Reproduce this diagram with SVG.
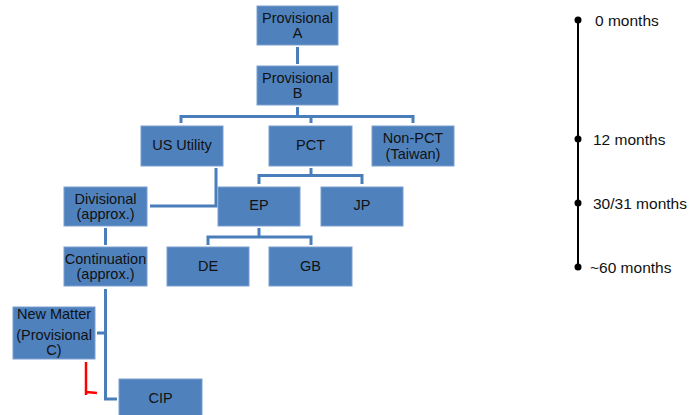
<svg xmlns="http://www.w3.org/2000/svg" width="689" height="415" viewBox="0 0 689 415">
<style>
.box{fill:#4F81BD;stroke:#7A9FD0;stroke-width:1}
.t{font-family:"Liberation Sans",Arial,sans-serif;font-size:14.5px;fill:#111;text-anchor:middle}
.tl{font-family:"Liberation Sans",Arial,sans-serif;font-size:15.5px;fill:#111}
.c{fill:none;stroke:#4A7EBB;stroke-width:3}
</style>
<rect width="689" height="415" fill="#fff"/>
<g id="connectors">
<path class="c" d="M297.5 47V64"/>
<path class="c" d="M297.5 107V116.5M181 123V116.5H413V123M311 116.5V123"/>
<path class="c" d="M311 168V175.5M259 184V175.5H362V184"/>
<path class="c" d="M216 168V206H150"/>
<path class="c" d="M259 228V237M208 245V237H311V245"/>
<path class="c" d="M105.5 228V245"/>
<path class="c" d="M105.5 289V399H117M97 333H105.5"/>
<path d="M86 362V395M86 392L97 393" fill="none" stroke="#FF0000" stroke-width="2.5"/>
</g>
<g id="provA"><rect class="box" x="257" y="6" width="81" height="39"/><text class="t" x="297.5" y="22.5">Provisional</text><text class="t" x="297.5" y="38">A</text></g>
<g id="provB"><rect class="box" x="257" y="66" width="81" height="39"/><text class="t" x="297.5" y="82.5">Provisional</text><text class="t" x="297.5" y="97.5">B</text></g>
<g id="usUtility"><rect class="box" x="141" y="126" width="82" height="40"/><text class="t" x="182" y="150">US Utility</text></g>
<g id="pct"><rect class="box" x="269" y="126" width="83" height="40"/><text class="t" x="310.5" y="150">PCT</text></g>
<g id="nonPct"><rect class="box" x="372" y="126" width="82" height="40"/><text class="t" x="413" y="143">Non-PCT</text><text class="t" x="413" y="158.5">(Taiwan)</text></g>
<g id="divisional"><rect class="box" x="64" y="187" width="83" height="39"/><text class="t" x="105.5" y="203.5">Divisional</text><text class="t" x="105.5" y="218.5">(approx.)</text></g>
<g id="ep"><rect class="box" x="218" y="187" width="82" height="39"/><text class="t" x="259" y="209.5">EP</text></g>
<g id="jp"><rect class="box" x="321" y="187" width="82" height="39"/><text class="t" x="362" y="209.5">JP</text></g>
<g id="continuation"><rect class="box" x="64" y="247" width="83" height="39"/><text class="t" x="105.5" y="263.5">Continuation</text><text class="t" x="105.5" y="278.5">(approx.)</text></g>
<g id="de"><rect class="box" x="167" y="247" width="82" height="39"/><text class="t" x="208" y="271">DE</text></g>
<g id="gb"><rect class="box" x="269" y="247" width="83" height="39"/><text class="t" x="310.5" y="271">GB</text></g>
<g id="newMatter"><rect class="box" x="13" y="307" width="82" height="52"/><text class="t" x="54" y="319">New Matter</text><text class="t" x="54" y="340">(Provisional</text><text class="t" x="54" y="355">C)</text></g>
<g id="cip"><rect class="box" x="119" y="379" width="83" height="39"/><text class="t" x="160.5" y="403">CIP</text></g>
<g id="timeline">
<line x1="578" y1="20" x2="578" y2="267" stroke="#000" stroke-width="2"/>
<circle cx="578" cy="20" r="3.5"/><circle cx="578" cy="139" r="3.5"/><circle cx="578" cy="203" r="3.5"/><circle cx="578" cy="267" r="3.5"/>
<text class="tl" x="595" y="25.5">0 months</text>
<text class="tl" x="593" y="144.5">12 months</text>
<text class="tl" x="593" y="208.5">30/31 months</text>
<text class="tl" x="590" y="272.5">~60 months</text>
</g>
</svg>
